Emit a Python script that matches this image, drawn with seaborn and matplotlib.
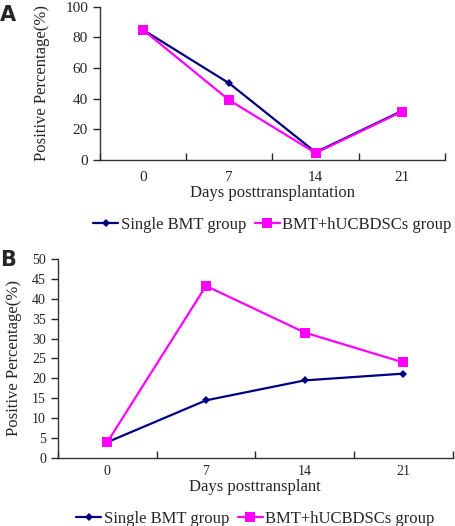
import numpy as np
import pandas as pd
import seaborn as sns
import matplotlib
matplotlib.use("Agg")
import matplotlib.pyplot as plt

# data
days = ["0", "7", "14", "21"]
groups = ["Single BMT group", "BMT+hUCBDSCs group"]
a_single = [85, 50, 5, 32]
a_combo = [85, 39, 4.5, 31.5]
b_single = [4, 14.5, 19.5, 21.2]
b_combo = [4, 43.2, 31.5, 24]

colors = {"Single BMT group": "#000080", "BMT+hUCBDSCs group": "#FF00FF"}
markers = {"Single BMT group": "D", "BMT+hUCBDSCs group": "s"}
sizes = {"Single BMT group": 4.5, "BMT+hUCBDSCs group": 6.5}

sns.set_style("ticks")
plt.rcParams["font.family"] = ["Liberation Serif", "DejaVu Serif"]


def make_df(single, combo):
    rows = []
    for g, vals in zip(groups, [single, combo]):
        for i, v in enumerate(vals):
            rows.append({"pos": i, "day": days[i], "group": g, "value": v})
    return pd.DataFrame(rows)


def draw_panel(ax, df, ymax, ystep, xlabel, tick_fs, label_fs, legend_y, xpad):
    for g in groups:
        sub = df[df["group"] == g]
        sns.lineplot(data=sub, x="pos", y="value", ax=ax, color=colors[g],
                     marker=markers[g], markersize=sizes[g], linewidth=1.6,
                     markeredgewidth=0, label=g)
    ax.set_xlim(-0.5, len(days) - 0.5)
    ax.set_ylim(0, ymax)
    ax.set_yticks(np.arange(0, ymax + 0.1, ystep))
    ax.set_xticks(np.arange(len(days)))
    ax.set_xticklabels(days)
    ax.set_xticks(np.arange(len(days) + 1) - 0.5, minor=True)
    ax.tick_params(axis="x", which="major", length=0, labelsize=tick_fs, pad=xpad)
    ax.tick_params(axis="x", which="minor", direction="in", length=5, width=1)
    ax.tick_params(axis="y", direction="out", length=5, width=1, labelsize=tick_fs)
    for s in ["top", "right"]:
        ax.spines[s].set_visible(False)
    for s in ["left", "bottom"]:
        ax.spines[s].set_linewidth(1)
        ax.spines[s].set_color("#333333")
    ax.set_xlabel(xlabel, fontsize=label_fs, labelpad=1)
    ax.set_ylabel("Positive Percentage(%)", fontsize=label_fs)
    ax.legend(loc="upper center", bbox_to_anchor=(0.5, legend_y), ncol=2,
              frameon=False, fontsize=label_fs, handlelength=1.5,
              handletextpad=0.15, columnspacing=0.5, borderaxespad=0)


fig = plt.figure(figsize=(4.56, 5.26), dpi=100)

ax_a = fig.add_axes([0.219, 0.696, 0.757, 0.291])
draw_panel(ax_a, make_df(a_single, a_combo), 100, 20,
           "Days posttransplantation", 11, 12, -0.33, 8)
ax_a.yaxis.set_label_coords(-0.145, 0.5)

ax_b = fig.add_axes([0.127, 0.129, 0.866, 0.379])
draw_panel(ax_b, make_df(b_single, b_combo), 50, 5,
           "Days posttransplant", 10, 12, -0.23, 5)
ax_b.yaxis.set_label_coords(-0.09, 0.5)

fig.text(0.0, 0.99, "A", fontsize=15, fontweight="bold", va="top", ha="left",
         family="DejaVu Sans")
fig.text(0.0, 0.525, "B", fontsize=15, fontweight="bold", va="top", ha="left",
         family="DejaVu Sans")

fig.savefig("out.png", dpi=100)
